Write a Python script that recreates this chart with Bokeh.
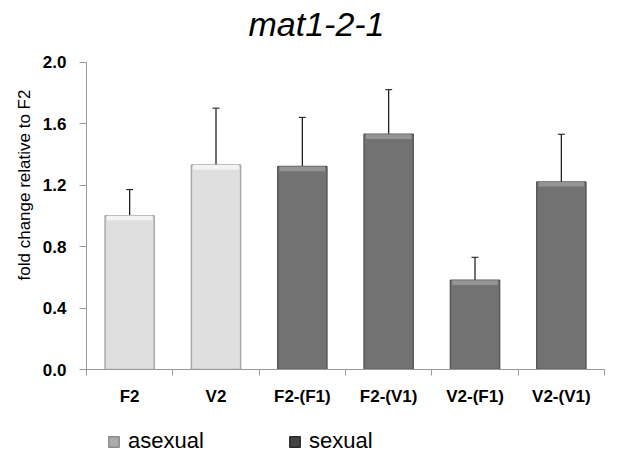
from bokeh.plotting import figure
from bokeh.layouts import column
from bokeh.models import ColumnDataSource, Whisker, FixedTicker, Legend, LegendItem, Range1d
from bokeh.core.properties import value
from bokeh.embed import file_html
from bokeh.resources import INLINE

categories = ["F2", "V2", "F2-(F1)", "F2-(V1)", "V2-(F1)", "V2-(V1)"]
groups = ["asexual", "asexual", "sexual", "sexual", "sexual", "sexual"]
values = [1.00, 1.33, 1.32, 1.53, 0.58, 1.22]
err_low = [0.85, 0.97, 1.00, 1.25, 0.44, 0.92]
err_high = [1.17, 1.70, 1.64, 1.82, 0.73, 1.53]
y_ticks = [0.0, 0.4, 0.8, 1.2, 1.6, 2.0]
legend_labels = ["asexual", "sexual"]
title_text = "mat1-2-1"

fill_map = {"asexual": "#dfdfdf", "sexual": "#727272"}
line_map = {"asexual": "#a9a9a9", "sexual": "#585858"}
shine_map = {"asexual": "#f3f3f3", "sexual": "#949494"}
legend_fill = {"asexual": "#ababab", "sexual": "#444444"}
legend_line = {"asexual": "#8a8a8a", "sexual": "#2a2a2a"}

xs = [i + 0.5 for i in range(len(categories))]

# y range reaches above 2.0 to leave room for the title inside the frame
p = figure(width=620, height=408, output_backend="svg", toolbar_location=None,
           x_range=Range1d(0, len(categories)), y_range=Range1d(0, 2.4),
           min_border_left=86, min_border_right=16, min_border_top=0, min_border_bottom=36)
p.outline_line_color = None
p.xgrid.grid_line_color = None
p.ygrid.grid_line_color = None

p.text(x=[2.664], y=[2.25], text=[title_text], text_font=value("Liberation Sans"),
       text_font_style="italic", text_font_size="34px", text_color="#000000",
       text_align="center", text_baseline="middle")

for g in legend_labels:
    idx = [i for i, gg in enumerate(groups) if gg == g]
    tops = [values[i] for i in idx]
    src = ColumnDataSource(dict(x=[xs[i] for i in idx], top=tops,
                                shine=[t - 0.03 for t in tops]))
    p.vbar(x="x", top="top", bottom=0, width=0.57, source=src,
           fill_color=fill_map[g], line_color=line_map[g], line_width=1.5)
    p.vbar(x="x", top="top", bottom="shine", width=0.53, source=src,
           fill_color=shine_map[g], line_color=None)

esrc = ColumnDataSource(dict(x=xs, lo=err_low, hi=err_high))
w = Whisker(base="x", lower="lo", upper="hi", source=esrc, line_color="#111111", line_width=1.2)
w.upper_head.size = 7
w.lower_head.size = 7
w.upper_head.line_color = "#111111"
w.lower_head.line_color = "#111111"
p.add_layout(w)

# x axis
p.xaxis.ticker = FixedTicker(ticks=xs, minor_ticks=list(range(len(categories) + 1)))
p.xaxis.major_label_overrides = {x: c for x, c in zip(xs, categories)}
p.xaxis.major_tick_line_color = None
p.xaxis.major_tick_out = 6
p.xaxis.major_tick_in = 0
p.xaxis.minor_tick_out = 6
p.xaxis.minor_tick_in = 0
p.xaxis.minor_tick_line_color = "#999999"
p.xaxis.axis_line_color = "#999999"
p.xaxis.major_label_standoff = 11
p.xaxis.major_label_text_font = "Liberation Sans"
p.xaxis.major_label_text_font_style = "bold"
p.xaxis.major_label_text_font_size = "17px"
p.xaxis.major_label_text_color = "#000000"

# y axis
p.yaxis.ticker = FixedTicker(ticks=y_ticks)
p.yaxis.bounds = (y_ticks[0], y_ticks[-1])
p.yaxis.major_label_overrides = {t: f"{t:.1f}" for t in y_ticks}
p.yaxis.minor_tick_line_color = None
p.yaxis.major_tick_out = 7
p.yaxis.major_tick_in = 0
p.yaxis.major_tick_line_color = "#999999"
p.yaxis.axis_line_color = "#999999"
p.yaxis.major_label_standoff = 13
p.yaxis.major_label_text_font = "Liberation Sans"
p.yaxis.major_label_text_font_style = "bold"
p.yaxis.major_label_text_font_size = "17px"
p.yaxis.major_label_text_color = "#000000"
p.yaxis.axis_label = "fold change relative to F2"
p.yaxis.axis_label_text_font = "Liberation Sans"
p.yaxis.axis_label_text_font_style = "normal"
p.yaxis.axis_label_text_font_size = "17px"
p.yaxis.axis_label_text_color = "#000000"
p.yaxis.axis_label_standoff = 6

# legend strip below the chart
nan = float("nan")
lg = figure(width=620, height=46, output_backend="svg", toolbar_location=None,
            x_axis_type=None, y_axis_type=None, x_range=Range1d(0, 1), y_range=Range1d(0, 1),
            min_border=0)
lg.outline_line_color = None
lg.xgrid.grid_line_color = None
lg.ygrid.grid_line_color = None
items = []
for g in legend_labels:
    r = lg.vbar(x=[nan], top=[nan], width=0.1, fill_color=legend_fill[g],
                line_color=legend_line[g], line_width=1.5)
    items.append(LegendItem(label=g, renderers=[r]))
legend = Legend(items=items, orientation="horizontal", location=(21, 0),
                label_text_font="Liberation Sans", label_text_font_size="22px",
                label_text_color="#000000",
                glyph_width=13, glyph_height=13, label_standoff=8, spacing=0,
                label_width=160, padding=0, margin=0, border_line_color=None,
                background_fill_alpha=0)
lg.add_layout(legend)

layout = column(p, lg, spacing=0)
open("out.html", "w").write(file_html(layout, INLINE))
